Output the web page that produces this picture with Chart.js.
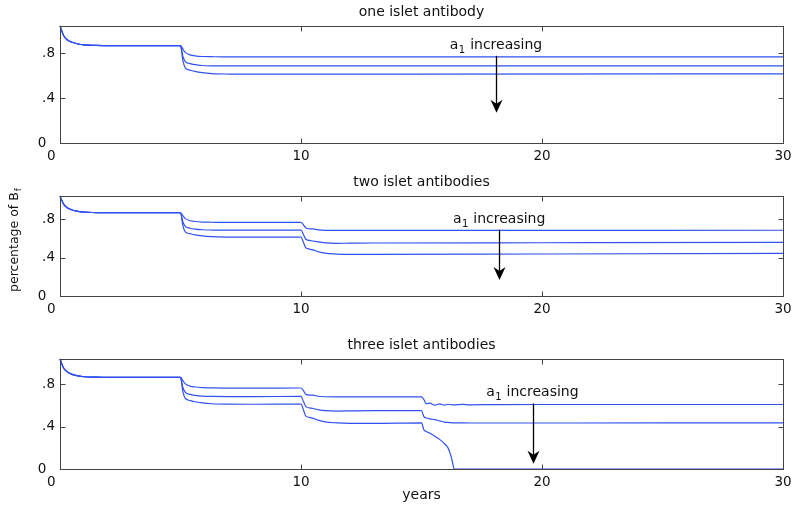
<!DOCTYPE html>
<html>
<head>
<meta charset="utf-8">
<script src="https://cdn.jsdelivr.net/npm/chart.js@4"></script>
<style>
  body { margin: 0; background: #fff; }
  #wrap { position: relative; width: 800px; height: 510px; overflow: hidden; }
  canvas { position: absolute; left: 0; }
</style>
</head>
<body>
<div id="wrap">
  <canvas id="c1" width="800" height="170" style="top:0px"></canvas>
  <canvas id="c2" width="800" height="153" style="top:170px"></canvas>
  <canvas id="c3" width="800" height="177" style="top:333px"></canvas>
</div>
<script>
const titles = ['one islet antibody', 'two islet antibodies', 'three islet antibodies'];
const xTicks = [0, 10, 20, 30];
const yTicks = [0, 0.4, 0.8];

// panel 1
const years1 = [0, 0.15, 0.3, 0.5, 0.75, 1, 1.5, 2, 5, 5.1, 5.2, 5.4, 5.6, 5.9, 6.3, 7, 8, 15, 30];
const p1Top = [1.04, 0.955, 0.918, 0.895, 0.88, 0.872, 0.868, 0.866, 0.866, 0.835, 0.805, 0.783, 0.775, 0.769, 0.767, 0.765, 0.765, 0.765, 0.765];
const p1Mid = [1.04, 0.955, 0.918, 0.895, 0.88, 0.872, 0.868, 0.866, 0.866, 0.77, 0.724, 0.705, 0.696, 0.689, 0.686, 0.685, 0.685, 0.685, 0.686];
const p1Bot = [1.04, 0.955, 0.918, 0.895, 0.88, 0.872, 0.868, 0.866, 0.866, 0.73, 0.668, 0.648, 0.636, 0.625, 0.617, 0.613, 0.612, 0.613, 0.615];

// panel 2
const years2 = [0, 0.15, 0.3, 0.5, 0.75, 1, 1.5, 2, 5, 5.1, 5.2, 5.4, 5.6, 5.9, 6.3, 7, 8,
  10, 10.1, 10.2, 10.35, 10.5, 10.7, 11, 11.5, 12, 13, 20, 30];
const p2Top = [1.04, 0.955, 0.918, 0.895, 0.88, 0.872, 0.868, 0.866, 0.866, 0.835, 0.805, 0.783, 0.775, 0.769, 0.767, 0.765, 0.765,
  0.766, 0.74, 0.707, 0.699, 0.698, 0.688, 0.683, 0.682, 0.682, 0.682, 0.683, 0.684];
const p2Mid = [1.04, 0.955, 0.918, 0.895, 0.88, 0.872, 0.868, 0.866, 0.866, 0.77, 0.724, 0.705, 0.696, 0.689, 0.686, 0.685, 0.685,
  0.686, 0.64, 0.59, 0.578, 0.572, 0.562, 0.552, 0.548, 0.549, 0.551, 0.554, 0.557];
const p2Bot = [1.04, 0.955, 0.918, 0.895, 0.88, 0.872, 0.868, 0.866, 0.866, 0.73, 0.668, 0.648, 0.636, 0.625, 0.617, 0.613, 0.612,
  0.613, 0.56, 0.5, 0.488, 0.479, 0.462, 0.445, 0.436, 0.432, 0.432, 0.437, 0.443];

// panel 3
const years3 = [0, 0.15, 0.3, 0.5, 0.75, 1, 1.5, 2, 5, 5.1, 5.2, 5.4, 5.6, 5.9, 6.3, 7, 8,
  10, 10.1, 10.2, 10.35, 10.5, 10.7, 11, 11.5, 12, 13,
  15, 15.1, 15.2, 15.35, 15.55, 15.75, 15.95, 16.1, 16.2, 16.3, 16.35, 16.7, 17, 18, 20, 25, 30];
const p3Top = [1.04, 0.955, 0.918, 0.895, 0.88, 0.872, 0.868, 0.866, 0.866, 0.835, 0.805, 0.783, 0.775, 0.769, 0.767, 0.765, 0.765,
  0.766, 0.74, 0.707, 0.699, 0.698, 0.688, 0.683, 0.682, 0.682, 0.682,
  0.682, 0.655, 0.618, 0.623, 0.603, 0.616, 0.604, 0.612, 0.61, 0.606, 0.606, 0.611, 0.607, 0.609, 0.61, 0.61, 0.61];
const p3Mid = [1.04, 0.955, 0.918, 0.895, 0.88, 0.872, 0.868, 0.866, 0.866, 0.77, 0.724, 0.705, 0.696, 0.689, 0.686, 0.685, 0.685,
  0.686, 0.64, 0.59, 0.578, 0.572, 0.562, 0.552, 0.548, 0.549, 0.551,
  0.551, 0.495, 0.482, 0.474, 0.466, 0.455, 0.444, 0.44, 0.438, 0.437, 0.437, 0.436, 0.435, 0.435, 0.435, 0.436, 0.437];
const p3Bot = [1.04, 0.955, 0.918, 0.895, 0.88, 0.872, 0.868, 0.866, 0.866, 0.73, 0.668, 0.648, 0.636, 0.625, 0.617, 0.613, 0.612,
  0.613, 0.56, 0.5, 0.488, 0.479, 0.462, 0.445, 0.436, 0.432, 0.432,
  0.437, 0.37, 0.355, 0.338, 0.31, 0.28, 0.24, 0.2, 0.14, 0.05, 0, 0, 0, 0, 0, 0, 0];

Chart.defaults.font.family = '"DejaVu Sans", sans-serif';
Chart.defaults.color = '#111';

const lineColor = '#3152ee';

// box, inward ticks, arrow note, y label
const framePlugin = {
  id: 'frame',
  afterDraw(chart, args, opts) {
    const { ctx, chartArea: a, scales: { x, y } } = chart;
    const L = Math.round(a.left) + 0.5, R = Math.round(a.right) + 0.5;
    const T = Math.round(a.top) + 0.5, B = Math.round(a.bottom) + 0.5;
    ctx.save();
    ctx.strokeStyle = '#444';
    ctx.lineWidth = 1;
    ctx.strokeRect(L, T, R - L, B - T);
    ctx.beginPath();
    [10, 20].forEach(v => {
      const px = Math.round(x.getPixelForValue(v)) + 0.5;
      ctx.moveTo(px, B); ctx.lineTo(px, B - 5);
      ctx.moveTo(px, T); ctx.lineTo(px, T + 5);
    });
    [0.4, 0.8].forEach(v => {
      const py = Math.round(y.getPixelForValue(v)) + 0.5;
      ctx.moveTo(L, py); ctx.lineTo(L + 5, py);
      ctx.moveTo(R, py); ctx.lineTo(R - 5, py);
    });
    ctx.stroke();

    const n = opts.note;
    if (n) {
      ctx.fillStyle = '#111';
      ctx.textBaseline = 'alphabetic';
      const big = '14px "DejaVu Sans"', small = '10px "DejaVu Sans"';
      ctx.font = big;
      const wa = ctx.measureText('a').width;
      const wr = ctx.measureText(' increasing').width;
      ctx.font = small;
      const w1 = ctx.measureText('1').width;
      const cx = x.getPixelForValue(n.textX);
      const base = y.getPixelForValue(n.textY) + 5;
      let sx = cx - (wa + w1 + 1 + wr) / 2;
      ctx.font = big; ctx.fillText('a', sx, base);
      ctx.font = small; ctx.fillText('1', sx + wa + 0.5, base + 4);
      ctx.font = big; ctx.fillText(' increasing', sx + wa + w1 + 1, base);

      const ax = Math.round(x.getPixelForValue(n.x)) + 0.5;
      const y0 = y.getPixelForValue(n.from), y1 = y.getPixelForValue(n.to);
      ctx.strokeStyle = '#000';
      ctx.lineWidth = 1.3;
      ctx.beginPath();
      ctx.moveTo(ax, y0); ctx.lineTo(ax, y1 - 8);
      ctx.stroke();
      ctx.fillStyle = '#000';
      ctx.beginPath();
      ctx.moveTo(ax, y1);
      ctx.lineTo(ax - 6, y1 - 13);
      ctx.lineTo(ax, y1 - 9);
      ctx.lineTo(ax + 6, y1 - 13);
      ctx.closePath();
      ctx.fill();
    }

    if (opts.yLabel) {
      // centred on page y = 240 (canvas starts at 170)
      ctx.save();
      ctx.translate(15, 70);
      ctx.rotate(-Math.PI / 2);
      ctx.fillStyle = '#111';
      ctx.textBaseline = 'middle';
      const f1 = '12.5px "DejaVu Sans"', f2 = '9px "DejaVu Sans"';
      ctx.font = f1;
      const w = ctx.measureText('percentage of B').width;
      ctx.font = f2;
      const wf = ctx.measureText('f').width;
      const sx = -(w + wf + 1) / 2;
      ctx.font = f1; ctx.fillText('percentage of B', sx, 0);
      ctx.font = f2; ctx.fillText('f', sx + w + 1, 4);
      ctx.restore();
    }
    ctx.restore();
  }
};

function series(years, vals) {
  return vals.map((v, i) => ({ x: years[i], y: v }));
}

function makePanel(id, title, years, lines, xAxisHeight, note, extra) {
  const datasets = lines.map(vals => ({
    data: series(years, vals),
    borderColor: lineColor,
    borderWidth: 1.2,
    pointRadius: 0,
    cubicInterpolationMode: 'monotone',
    clip: 3
  }));
  new Chart(document.getElementById(id), {
    type: 'line',
    data: { datasets },
    options: {
      responsive: false,
      animation: false,
      devicePixelRatio: 1,
      layout: { padding: { left: 0, right: 17, top: 0, bottom: 0 } },
      plugins: {
        legend: { display: false },
        tooltip: { enabled: false },
        title: {
          display: true,
          fullSize: false,
          text: title,
          font: { size: 14, weight: 'normal' },
          color: '#111',
          padding: { top: 3.5, bottom: 5.7 }
        },
        frame: { note, yLabel: extra.yLabel }
      },
      scales: {
        x: {
          type: 'linear',
          min: 0, max: 30,
          grid: { display: false, drawTicks: false },
          border: { display: false },
          afterBuildTicks: s => { s.ticks = xTicks.map(v => ({ value: v })); },
          afterFit: s => { s.height = xAxisHeight; },
          ticks: {
            font: { size: 13.5 },
            color: '#111',
            padding: 5,
            maxRotation: 0,
            callback: v => v === 0 ? '0    ' : String(v)
          },
          title: extra.xTitle ? {
            display: true,
            text: extra.xTitle,
            font: { size: 14 },
            color: '#111',
            padding: { top: 0, bottom: 6 }
          } : { display: false }
        },
        y: {
          min: 0, max: 1.04,
          grid: { display: false, drawTicks: false },
          border: { display: false },
          afterBuildTicks: s => { s.ticks = yTicks.map(v => ({ value: v })); },
          afterFit: s => { s.width = 60; },
          ticks: {
            font: { size: 13.5 },
            color: '#111',
            padding: 5,
            callback: v => v === 0 ? '0  ' : v.toFixed(1).replace(/^0/, '')
          }
        }
      }
    },
    plugins: [framePlugin]
  });
}

makePanel('c1', titles[0], years1, [p1Top, p1Mid, p1Bot], 27,
  { textX: 18.09, textY: 0.88, x: 18.08, from: 0.775, to: 0.27 }, {});
makePanel('c2', titles[1], years2, [p2Top, p2Mid, p2Bot], 27,
  { textX: 18.22, textY: 0.816, x: 18.23, from: 0.69, to: 0.167 }, { yLabel: true });
makePanel('c3', titles[2], years3, [p3Top, p3Mid, p3Bot], 41,
  { textX: 19.6, textY: 0.733, x: 19.64, from: 0.62, to: 0.05 }, { xTitle: 'years' });
</script>
</body>
</html>
